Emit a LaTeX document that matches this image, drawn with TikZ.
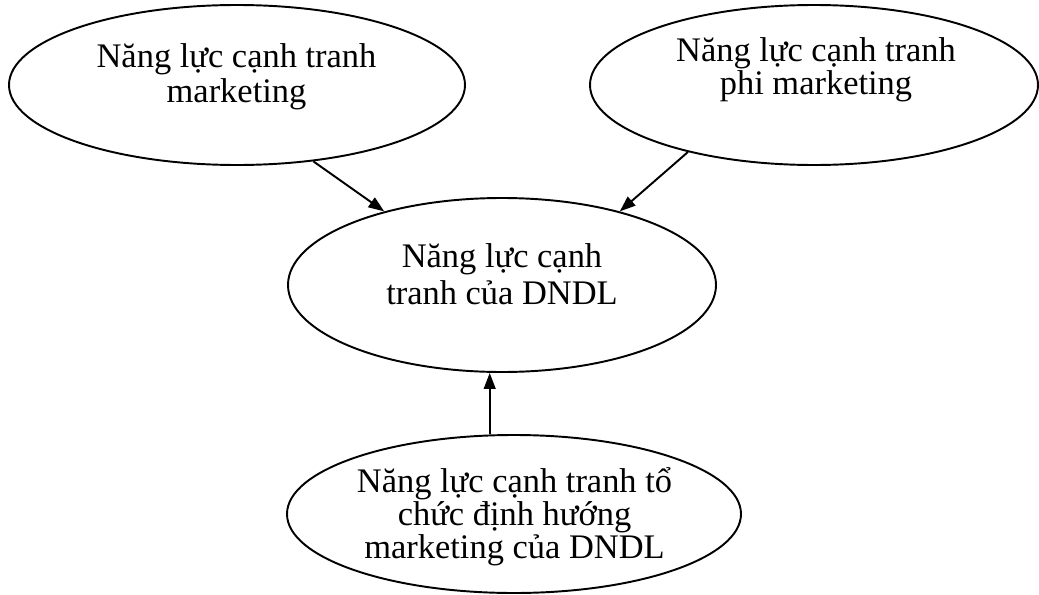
\documentclass[tikz,border=0pt]{standalone}
\usepackage{fontspec}
\setmainfont{Liberation Serif}
\usetikzlibrary{shapes.geometric, arrows.meta}

\begin{document}
\begin{tikzpicture}
% Define styles
\tikzstyle{factor} = [ellipse, draw=black, line width=0.55pt, inner sep=0pt]
\tikzstyle{caption} = [align=center, inner sep=0pt, font=\fontsize{9.8}{9.4}\selectfont]
\tikzstyle{arrow} = [line width=0.55pt, -{Triangle[length=4.5pt, width=3.3pt]}]

\useasboundingbox (0,0) rectangle (10.39,5.94);

% Ellipses
\node (mkt) [factor, minimum width=4.56cm, minimum height=1.60cm] at (2.37,5.09) {};
\node (nonmkt) [factor, minimum width=4.48cm, minimum height=1.60cm] at (8.14,5.09) {};
\node (comp) [factor, minimum width=4.28cm, minimum height=1.74cm] at (5.02,3.09) {};
\node (org) [factor, minimum width=4.54cm, minimum height=1.58cm] at (5.14,0.80) {};

% Texts
\node (mkt-txt) [caption, font=\fontsize{9.8}{8.7}\selectfont] at (2.365,5.17) {Năng lực cạnh tranh\\marketing};
\node (nonmkt-txt) [caption] at (8.16,5.24) {Năng lực cạnh tranh\\phi marketing};
\node (comp-txt) [caption, font=\fontsize{9.8}{10.45}\selectfont] at (5.02,3.20) {Năng lực cạnh\\tranh của DNDL};
\node (org-txt) [caption] at (5.145,0.77) {Năng lực cạnh tranh tổ\\chức định hướng\\marketing của DNDL};

% Arrows
\draw[arrow] (mkt.-45) -- (comp.148);
\draw[arrow] (nonmkt.208) -- (comp.32);
\draw[arrow] (org.107) -- (org.107 |- comp.south);
\end{tikzpicture}
\end{document}
